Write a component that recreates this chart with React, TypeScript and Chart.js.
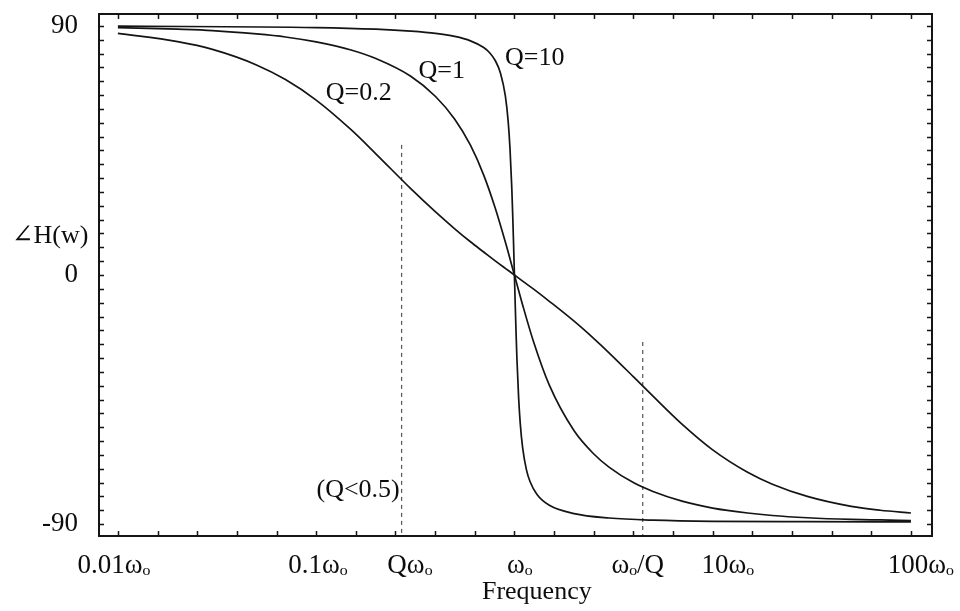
import React, { useEffect, useRef } from 'react';
import { Chart, registerables } from 'chart.js';

Chart.register(...registerables);

const FONT = '"Liberation Serif", "DejaVu Serif", "Times New Roman", serif';

// Frequency (in units of ω0) and phase (degrees)
const freqLow = [0.01, 0.02, 0.03, 0.05, 0.07, 0.1, 0.15, 0.2, 0.3, 0.4, 0.5, 0.6, 0.7, 0.8, 0.9, 1, 1.1, 1.25, 1.5, 2, 2.5, 3, 4, 5, 7, 10, 15, 20, 30, 50, 70, 100];
const phaseQ02 = [87.3, 84.3, 81.5, 75.9, 70.6, 63.2, 52.5, 43.8, 31.2, 22.8, 16.7, 12.0, 8.3, 5.1, 2.4, 0, -2.2, -5.1, -9.5, -16.7, -22.8, -28.1, -36.9, -43.8, -53.9, -63.2, -71.3, -75.6, -80.0, -83.6, -85.0, -86.0];
const phaseQ1 = [89.4, 88.8, 88.3, 87.1, 86.0, 84.2, 81.3, 78.2, 71.8, 64.5, 56.3, 46.9, 36.1, 24.2, 11.9, 0, -10.8, -24.2, -39.8, -56.3, -64.5, -69.4, -75.1, -78.2, -81.7, -84.2, -86.0, -86.9, -87.7, -88.3, -88.5, -88.7];
const freqQ10 = [0.01, 0.1, 0.2, 0.3, 0.4, 0.5, 0.6, 0.7, 0.75, 0.8, 0.85, 0.9, 0.93, 0.95, 0.97, 0.98, 0.99, 1, 1.01, 1.02, 1.03, 1.05, 1.07, 1.1, 1.15, 1.2, 1.3, 1.5, 2, 3, 5, 10, 30, 100];
const phaseQ10 = [89.9, 89.4, 88.8, 88.1, 87.3, 86.2, 84.6, 82.2, 80.3, 77.5, 73.0, 64.7, 55.5, 45.7, 31.4, 22.0, 11.4, 0, -11.3, -21.6, -30.6, -44.3, -53.6, -62.4, -70.4, -74.7, -79.3, -83.2, -86.2, -87.8, -88.6, -89.0, -89.1, -89.2];

// Axis labels
const xTickLabels = ['0.01ωₒ', '0.1ωₒ', 'Qωₒ', 'ωₒ', 'ωₒ/Q', '10ωₒ', '100ωₒ'];
const xTickAt = [0.00955, 0.102, 0.297, 1.065, 4.19, 11.92, 112];
const yTickLabels = ['-90', '0', '90'];
const yTickAt = [-90, 0, 90];

// Dashed marker lines (Qω0 and ω0/Q)
const markerFreq = [0.27, 4.44];
const markerTop = [47, -24.2];
const PHASE_MIN = -94.3;
const PHASE_MAX = 94.3;

// Curve annotations
const curveLabels = ['Q=0.2', 'Q=1', 'Q=10', '(Q<0.5)'];
const curveLabelFreq = [0.164, 0.43, 1.267, 0.264];
const curveLabelPhase = [65.8, 73.7, 78.4, -77.7];

const toXY = (xs: number[], ys: number[]) => xs.map((x, i) => ({ x, y: ys[i] }));

const framePlugin = {
  id: 'frame',
  afterDraw(chart: any) {
    const { ctx, chartArea, scales } = chart;
    const { left, right, top, bottom } = chartArea;
    const x = scales.x;
    const y = scales.y;
    ctx.save();
    ctx.strokeStyle = '#151515';
    ctx.lineWidth = 2;
    ctx.strokeRect(left, top, right - left, bottom - top);
    ctx.lineWidth = 1.5;
    ctx.beginPath();
    for (let k = 0; k <= 20; k++) {
      const px = Math.round(x.getPixelForValue(Math.pow(10, -2 + 0.2 * k))) + 0.5;
      ctx.moveTo(px, bottom);
      ctx.lineTo(px, bottom - 5);
      ctx.moveTo(px, top);
      ctx.lineTo(px, top + 5);
    }
    for (let v = -90; v <= 90; v += 5) {
      const py = Math.round(y.getPixelForValue(v)) + 0.5;
      ctx.moveTo(left, py);
      ctx.lineTo(left + 5, py);
      ctx.moveTo(right, py);
      ctx.lineTo(right - 5, py);
    }
    ctx.stroke();

    ctx.fillStyle = '#0d0d0d';
    ctx.textBaseline = 'middle';
    ctx.font = `26px ${FONT}`;
    ctx.textAlign = 'center';
    for (let i = 0; i < 3; i++) {
      ctx.fillText(curveLabels[i], x.getPixelForValue(curveLabelFreq[i]), y.getPixelForValue(curveLabelPhase[i]));
    }
    ctx.textAlign = 'right';
    ctx.fillText(curveLabels[3], x.getPixelForValue(curveLabelFreq[3]), y.getPixelForValue(curveLabelPhase[3]));

    // axis titles
    ctx.textAlign = 'center';
    ctx.font = `26px ${FONT}`;
    ctx.fillText('∠H(w)', 50, y.getPixelForValue(14));
    ctx.fillText('Frequency', x.getPixelForValue(1.297), bottom + 56);
    ctx.restore();
  },
};

export default function App() {
  const ref = useRef<HTMLCanvasElement | null>(null);
  useEffect(() => {
    if (!ref.current) return;
    const curve = (data: any) => ({
      data,
      borderColor: '#141414',
      borderWidth: 1.7,
      pointRadius: 0,
      fill: false,
      cubicInterpolationMode: 'monotone',
    });
    const marker = (i: number) => ({
      data: [
        { x: markerFreq[i], y: markerTop[i] },
        { x: markerFreq[i], y: PHASE_MIN },
      ],
      borderColor: '#333',
      borderWidth: 1,
      borderDash: [4, 4],
      pointRadius: 0,
      fill: false,
    });
    const chart = new Chart(ref.current, {
      type: 'line',
      data: {
        datasets: [
          curve(toXY(freqLow, phaseQ02)),
          curve(toXY(freqLow, phaseQ1)),
          curve(toXY(freqQ10, phaseQ10)),
          marker(0),
          marker(1),
        ] as any,
      },
      options: {
        responsive: false,
        animation: false,
        devicePixelRatio: 1,
        layout: { padding: { top: 14, right: 28, left: 0, bottom: 0 } },
        plugins: { legend: { display: false }, tooltip: { enabled: false } },
        scales: {
          x: {
            type: 'logarithmic',
            bounds: 'data',
            min: 0.00803,
            max: 127.7,
            grid: { display: false },
            border: { display: false },
            afterBuildTicks: (s: any) => {
              s.ticks = xTickAt.map((v) => ({ value: v }));
            },
            afterFit: (s: any) => {
              s.height = 75;
              s.paddingLeft = 0;
              s.paddingRight = 0;
            },
            ticks: {
              autoSkip: false,
              maxRotation: 0,
              minRotation: 0,
              padding: 6,
              color: '#0d0d0d',
              font: { family: FONT, size: 27 },
              callback: (_v: any, i: number) => xTickLabels[i],
            },
          },
          y: {
            type: 'linear',
            bounds: 'data',
            min: PHASE_MIN,
            max: PHASE_MAX,
            grid: { display: false },
            border: { display: false },
            afterBuildTicks: (s: any) => {
              s.ticks = yTickAt.map((v) => ({ value: v }));
            },
            afterFit: (s: any) => {
              s.width = 99;
              s.paddingTop = 0;
              s.paddingBottom = 0;
            },
            ticks: {
              autoSkip: false,
              padding: 13,
              color: '#0d0d0d',
              font: { family: FONT, size: 27 },
              callback: (_v: any, i: number) => yTickLabels[i],
            },
          },
        },
      } as any,
      plugins: [framePlugin],
    });
    return () => chart.destroy();
  }, []);
  return (
    <div style={{ position: 'fixed', left: 0, top: 0, width: 960, height: 611, background: '#fff' }}>
      <canvas ref={ref} width={960} height={611} style={{ display: 'block' }} />
    </div>
  );
}
